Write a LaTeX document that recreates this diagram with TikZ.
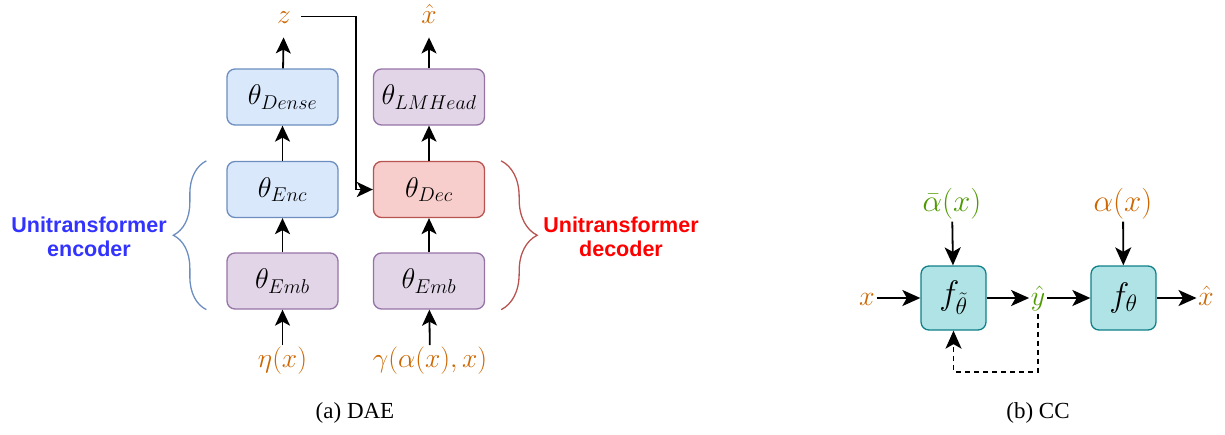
\RequirePackage{fix-cm}
\documentclass[tikz,border=0pt]{standalone}
\usepackage{fontspec}
\newfontfamily\tagfont{Liberation Sans}
\newfontfamily\capfont{Liberation Serif}
\usetikzlibrary{arrows.meta,decorations.pathreplacing}

\definecolor{encline}{HTML}{6C8EBF}
\definecolor{encfill}{HTML}{DAE8FC}
\definecolor{embline}{HTML}{9673A6}
\definecolor{embfill}{HTML}{E1D5E7}
\definecolor{decline}{HTML}{B85450}
\definecolor{decfill}{HTML}{F8CECC}
\definecolor{fnline}{HTML}{0E8088}
\definecolor{fnfill}{HTML}{B0E3E6}
\definecolor{varorange}{HTML}{CC6600}
\definecolor{vargreen}{HTML}{4D9900}
\definecolor{enctext}{HTML}{3333FF}
\definecolor{dectext}{HTML}{FF0000}

\begin{document}
\begin{tikzpicture}[x=1pt, y=-1pt, >={Stealth[length=16pt,width=15pt,inset=4pt]},
		blk/.style={rectangle, rounded corners=8pt, draw, line width=1.3pt, minimum width=111pt,
			minimum height=56pt, inner sep=0pt, font=\fontsize{28.5}{32}\selectfont},
		enc/.style={blk, draw=encline, fill=encfill},
		emb/.style={blk, draw=embline, fill=embfill},
		dec/.style={blk, draw=decline, fill=decfill},
		fn/.style={blk, draw=fnline, fill=fnfill, minimum width=65pt, minimum height=64pt,
			font=\fontsize{34}{38}\selectfont},
		var/.style={inner sep=2pt, text height=20.6pt, text depth=6.9pt,
			font=\fontsize{27.5}{30}\selectfont, text=varorange},
		rowvar/.style={inner sep=1.5pt, text height=21pt, text depth=7pt,
			font=\fontsize{28}{32}\selectfont, text=varorange},
		topvar/.style={inner sep=2pt, text height=23.25pt, text depth=7.75pt,
			font=\fontsize{31}{34}\selectfont, text=varorange},
		flow/.style={->, line width=1.8pt},
		flowb/.style={-{Stealth[length=18pt,width=16pt,inset=4.5pt]}, line width=1.8pt},
		brc/.style={decorate, line width=1.3pt, decoration={brace, amplitude=33pt, aspect=0.5}},
		tag/.style={align=center, font=\tagfont\bfseries\fontsize{21.5}{24}\selectfont},
		subcap/.style={font=\capfont\fontsize{23}{26}\selectfont}]
	\useasboundingbox (0,0) rectangle (1225,434);
	% (a) encoder column
	\node[emb] (emba)  at (282.5,281)  {$\theta_{Emb}$};
	\node[enc] (encb)  at (282.5,189.5) {$\theta_{Enc}$};
	\node[enc] (dense) at (282.5,97)   {$\theta_{Dense}$};
	\node[var] (eta) at (282.5,361) {$\eta(x)$};
	\node[var] (z)   at (284,16.5)  {$z$};
	% (a) decoder column
	\node[emb] (embb) at (429,281)   {$\theta_{Emb}$};
	\node[dec] (decb) at (429,189.5) {$\theta_{Dec}$};
	\node[emb] (head) at (429,97)    {$\theta_{LMHead}$};
	\node[var] (gam)  at (430,361)   {$\gamma(\alpha(x),x)$};
	\node[var] (xrec) at (429,16.5)  {$\hat{x}$};
	\coordinate (zbend) at (356,16.5);
	\draw[flow] (eta) -- (emba);
	\draw[flow] (emba) -- (encb);
	\draw[flow] (encb) -- (dense);
	\draw[flow, shorten >=5pt] (dense) -- (z);
	\draw[flow] (gam) -- (embb);
	\draw[flow] (embb) -- (decb);
	\draw[flow] (decb) -- (head);
	\draw[flow, shorten >=5pt] (head) -- (xrec);
	\draw[flow, shorten <=8pt] (z.east) -- (zbend) |- (decb.west);
	% braces and their tags
	\draw[brc, encline] ([xshift=-20pt]emba.south west) -- ([xshift=-20pt]encb.north west);
	\draw[brc, decline, decoration={amplitude=36pt}] ([xshift=16pt]decb.north east) -- ([xshift=16pt]embb.south east);
	\node[tag, text=enctext] (enctag) at (89,237)  {Unitransformer\\encoder};
	\node[tag, text=dectext] (dectag) at (621,237) {Unitransformer\\decoder};
	% (b) chain
	\node[fn] (fa) at (953.5,298)  {$f_{\tilde{\theta}}$};
	\node[fn] (fb) at (1123.5,298) {$f_{\theta}$};
	\node[rowvar] (xin)  at (867,298)   {$x$};
	\node[rowvar, text=vargreen] (yhat) at (1038,298) {$\hat{y}$};
	\node[rowvar] (xout) at (1206,298)  {$\hat{x}$};
	\node[topvar, text=vargreen] (abar) at (952,204) {$\bar{\alpha}(x)$};
	\node[topvar] (alf)  at (1123,204)  {$\alpha(x)$};
	\draw[flowb] (xin) -- (fa);
	\draw[flowb] (fa) -- (yhat);
	\draw[flowb] (yhat) -- (fb);
	\draw[flowb] (fb) -- (xout);
	\draw[flowb] (abar) -- (fa);
	\draw[flowb] (alf) -- (fb);
	\draw[flowb, dash pattern=on 5pt off 4pt] (yhat.south) -- ++(0,58) -| (fa.south);
	% captions
	\node[subcap] (capa) at (355,413)  {(a) DAE};
	\node[subcap] (capb) at (1038,413) {(b) CC};
\end{tikzpicture}
\end{document}
